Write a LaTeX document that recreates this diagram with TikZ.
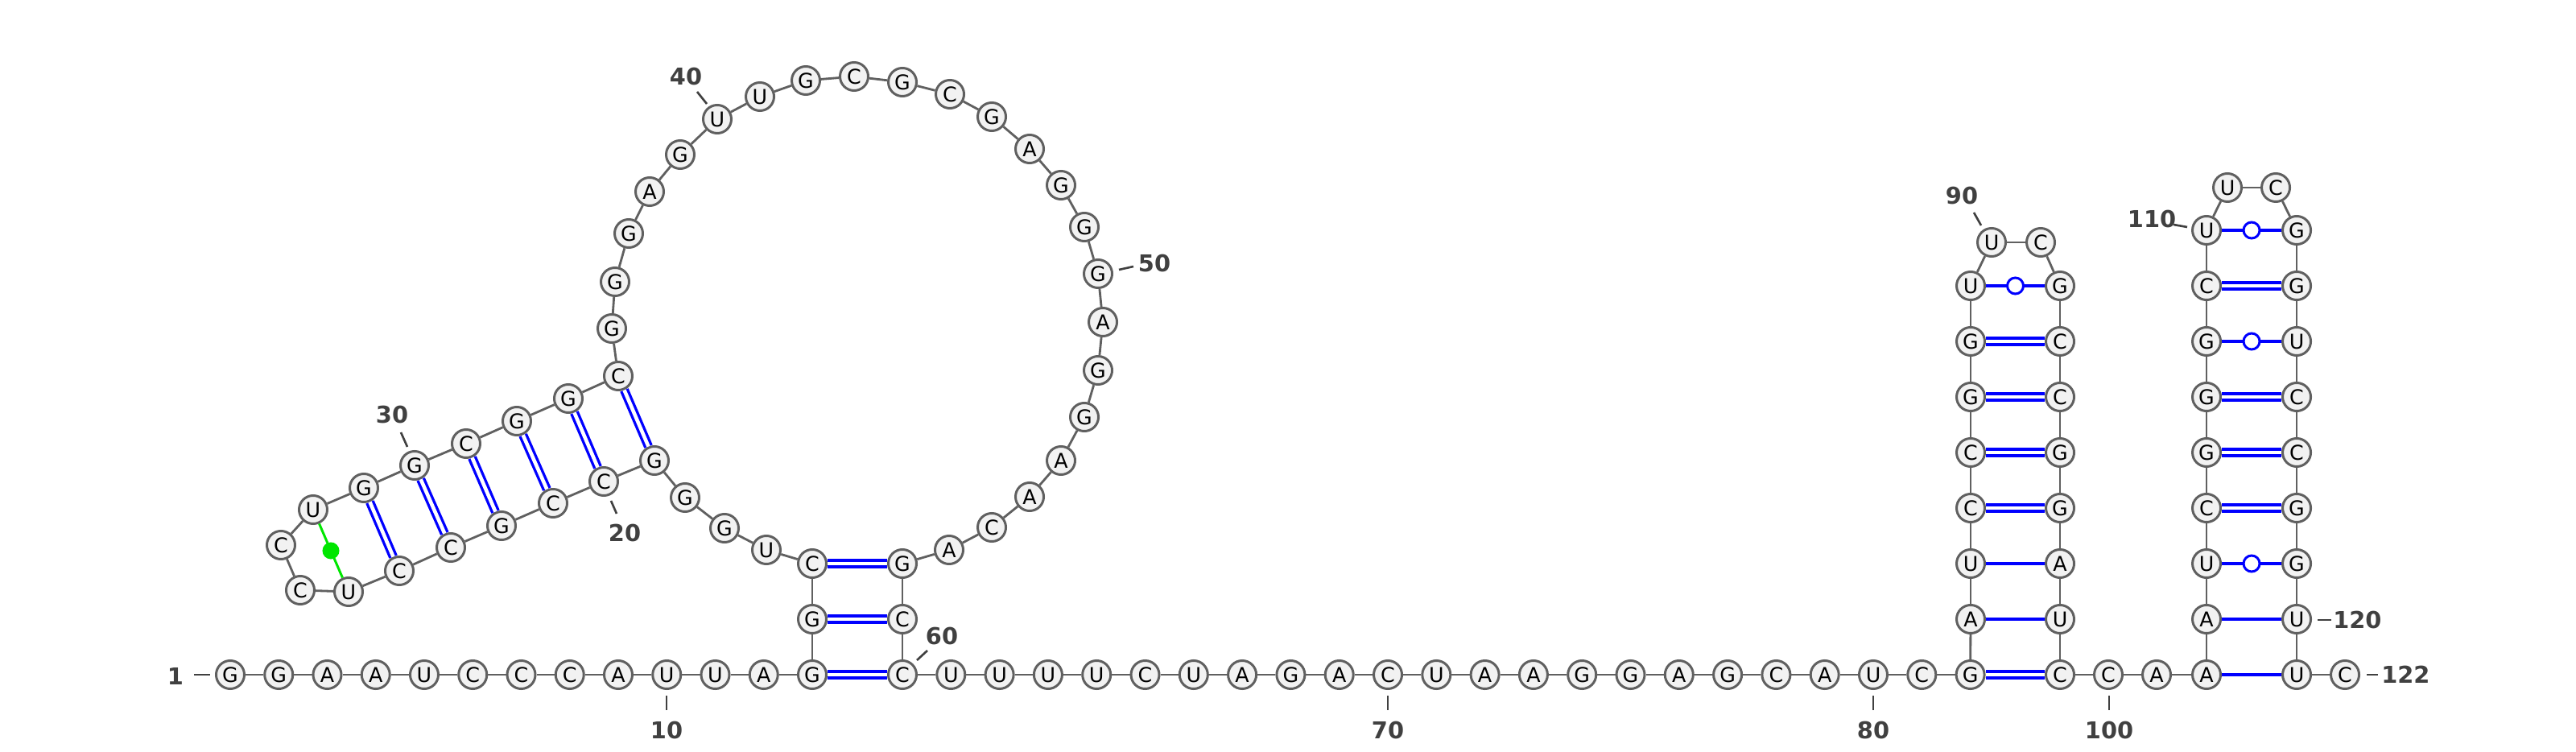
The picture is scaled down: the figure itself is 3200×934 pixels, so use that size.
\documentclass[tikz,border=0pt]{standalone}
\usepackage{fontspec}
\setmainfont{DejaVu Sans}
\usepackage{xcolor}
\usetikzlibrary{positioning}
\definecolor{ntfill}{RGB}{242,242,242}
\definecolor{ntline}{RGB}{96,96,96}
\definecolor{numgray}{RGB}{64,64,64}
\definecolor{gupair}{RGB}{0,230,0}

\begin{document}
\begin{tikzpicture}[x=0.01cm,y=-0.01cm,font=\fontsize{7.2}{8}\selectfont,
   nt/.style={circle,draw=ntline,fill=ntfill,line width=0.85pt,minimum size=0.35cm,inner sep=0pt},
   bb/.style={draw=ntline,line width=0.8pt},
   wc/.style={draw=blue,double=white,line width=0.95pt,double distance=1.3pt},
   au/.style={draw=blue,line width=0.9pt},
   wob/.style={circle,draw=blue,fill=white,line width=0.85pt,minimum size=0.2cm,inner sep=0pt},
   nc/.style={draw=gupair,line width=0.85pt},
   ncdot/.style={circle,fill=gupair,minimum size=0.21cm,inner sep=0pt},
   num/.style={font=\fontsize{8.2}{9}\selectfont\bfseries,text=numgray,inner sep=1pt},
   tick/.style={draw=numgray,line width=0.75pt}]
  \useasboundingbox (0,0) rectangle (3200,934);
  % 5' tail
  \foreach \b [count=\i] in {G,G,A,A,U,C,C,C,A,U,U,A,G}
    \node[nt] (n\i) at ({286+60.25*(\i-1)},838) {\b};
  % first stem, hairpin and big loop
  \foreach \i/\b/\x/\y in {14/G/1009/769,15/C/1009/700,16/U/952/683,17/G/900/656,
      18/G/851/618,19/G/813/572,20/C/750/598,21/C/687/625,22/G/623/653,23/C/560/680,
      24/C/496/709,25/U/433/735,26/C/373/733,27/C/349/677,28/U/389/633,29/G/452/606,
      30/G/515/578,31/C/579/551,32/G/642/523,33/G/706/495,34/C/768/467,35/G/760/408,
      36/G/764/350,37/G/781/290,38/A/807/238,39/G/845/192,40/U/891/148,41/U/944/120,
      42/G/1001/100,43/C/1061/95,44/G/1121/102,45/C/1180/117,46/G/1232/145,
      47/A/1279/185,48/G/1318/230,49/G/1347/282,50/G/1364/340,51/A/1370/400,
      52/G/1364/460,53/G/1347/518,54/A/1318/572,55/A/1279/617,56/C/1232/655,
      57/A/1179/683,58/G/1121/700,59/C/1121/769,60/C/1121/838}
    \node[nt] (n\i) at (\x,\y) {\b};
  % linker
  \foreach \b [count=\i from 61] in {U,U,U,U,C,U,A,G,A,C,U,A,A,G,G,A,G,C,A,U,C,G}
    \node[nt] (n\i) at ({1121+60.3*(\i-60)},838) {\b};
  % hairpin 82-99
  \foreach \b [count=\i from 83] in {A,U,C,C,G,G,U}
    \node[nt] (n\i) at (2448,{838-69*(\i-82)}) {\b};
  \node[nt] (n90) at (2474,301) {U};
  \node[nt] (n91) at (2535,301) {C};
  \foreach \b [count=\i from 92] in {G,C,C,G,G,A,U,C}
    \node[nt] (n\i) at (2559,{838-69*(99-\i)}) {\b};
  \node[nt] (n100) at (2619,838) {C};
  \node[nt] (n101) at (2679,838) {A};
  \node[nt] (n102) at (2741,838) {A};
  % hairpin 102-121
  \foreach \b [count=\i from 103] in {A,U,C,G,G,G,C,U}
    \node[nt] (n\i) at (2741,{838-69*(\i-102)}) {\b};
  \node[nt] (n111) at (2767,233) {U};
  \node[nt] (n112) at (2827,233) {C};
  \foreach \b [count=\i from 113] in {G,G,U,C,C,G,G,U,U}
    \node[nt] (n\i) at (2853,{838-69*(121-\i)}) {\b};
  \node[nt] (n122) at (2913,838) {C};
  % backbone
  \foreach \i [evaluate=\i as \j using int(\i+1)] in {1,...,121}
    \draw[bb] (n\i) -- (n\j);
  % base pairs
  \foreach \a/\b in {13/60,14/59,15/58,19/34,20/33,21/32,22/31,23/30,24/29,
      82/99,85/96,86/95,87/94,88/93,105/118,106/117,107/116,109/114}
    \draw[wc] (n\a) -- (n\b);
  \foreach \a/\b in {83/98,84/97,102/121,103/120}
    \draw[au] (n\a) -- (n\b);
  \foreach \a/\b in {89/92,104/119,108/115,110/113}
    \draw[au] (n\a) -- node[wob]{} (n\b);
  \draw[nc] (n28) -- node[ncdot]{} (n25);
  % numbering
  \node[num] (l1) at (218,840) {1};
  \draw[tick] (241,838) -- (261,838);
  \foreach \k/\x in {10/828,70/1724,80/2327,100/2620}{
    \node[num] (l\k) at (\x,907) {\k};
    \draw[tick] (\x,864) -- (\x,882);
  }
  \node[num] (l20) at (776,662) {20};
  \draw[tick] (759,622) -- (766,638);
  \node[num] (l30) at (487,515) {30};
  \draw[tick] (498,537) -- (506,555);
  \node[num] (l40) at (852,95) {40};
  \draw[tick] (866,114) -- (878,129);
  \node[num] (l50) at (1434,327) {50};
  \draw[tick] (1390,335) -- (1408,331);
  \node[num] (l60) at (1170,790) {60};
  \draw[tick] (1139,820) -- (1152,808);
  \node[num] (l90) at (2437,243) {90};
  \draw[tick] (2452,264) -- (2461,280);
  \node[num] (l110) at (2673,272) {110};
  \draw[tick] (2700,279) -- (2717,282);
  \node[num,anchor=west] (l120) at (2894,770) {120};
  \draw[tick] (2879,770) -- (2896,770);
  \node[num,anchor=west] (l122) at (2954,838) {122};
  \draw[tick] (2940,838) -- (2954,838);
\end{tikzpicture}
\end{document}
